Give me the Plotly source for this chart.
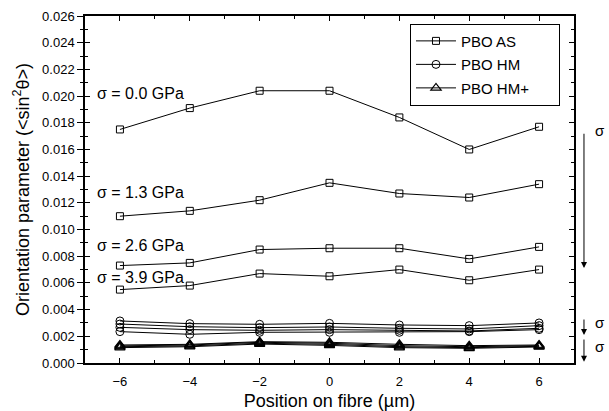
import plotly.graph_objects as go

# Position along the fibre (µm)
positions = [-6, -4, -2, 0, 2, 4, 6]

# Applied stress levels (GPa)
stress_labels = ["σ = 0.0 GPa", "σ = 1.3 GPa", "σ = 2.6 GPa", "σ = 3.9 GPa"]

# Orientation parameter <sin²θ> for as-spun PBO, one list per stress level
pbo_as_00 = [0.0175, 0.0191, 0.0204, 0.0204, 0.0184, 0.0160, 0.0177]
pbo_as_13 = [0.0110, 0.0114, 0.0122, 0.0135, 0.0127, 0.0124, 0.0134]
pbo_as_26 = [0.0073, 0.0075, 0.0085, 0.0086, 0.0086, 0.0078, 0.0087]
pbo_as_39 = [0.0055, 0.0058, 0.0067, 0.0065, 0.0070, 0.0062, 0.0070]

# High-modulus PBO
pbo_hm_00 = [0.00315, 0.00295, 0.00290, 0.00297, 0.00285, 0.00280, 0.00300]
pbo_hm_13 = [0.00292, 0.00272, 0.00265, 0.00270, 0.00260, 0.00255, 0.00280]
pbo_hm_26 = [0.00267, 0.00250, 0.00245, 0.00250, 0.00245, 0.00240, 0.00260]
pbo_hm_39 = [0.00235, 0.00215, 0.00230, 0.00230, 0.00230, 0.00235, 0.00250]

# High-modulus PBO, further heat treated
pbo_hmp_00 = [0.00135, 0.00140, 0.00160, 0.00155, 0.00140, 0.00130, 0.00135]
pbo_hmp_13 = [0.00128, 0.00135, 0.00155, 0.00148, 0.00130, 0.00122, 0.00130]
pbo_hmp_26 = [0.00122, 0.00128, 0.00148, 0.00140, 0.00122, 0.00115, 0.00125]
pbo_hmp_39 = [0.00115, 0.00122, 0.00142, 0.00132, 0.00115, 0.00110, 0.00120]

# Legend names (padded so the legend box has some room on the right)
series_names = ["PBO AS", "PBO HM", "PBO HM+"]

# Where each stress label sits (left end of text, value level)
label_x = -6.72
label_y = [0.0202, 0.0128, 0.0088, 0.0064]

FONT = "Liberation Sans, Arial, sans-serif"
PAD = "\u00a0" * 6

fig = go.Figure()

groups = [
    (series_names[0], "square-open", 7, 1.0, [pbo_as_00, pbo_as_13, pbo_as_26, pbo_as_39]),
    (series_names[1], "circle-open", 8, 1.0, [pbo_hm_00, pbo_hm_13, pbo_hm_26, pbo_hm_39]),
    (series_names[2], "triangle-up-open", 9, 1.2, [pbo_hmp_00, pbo_hmp_13, pbo_hmp_26, pbo_hmp_39]),
]

for name, symbol, size, mlw, series in groups:
    for i, vals in enumerate(series):
        fig.add_trace(go.Scatter(
            x=positions, y=vals, mode="lines+markers", name=name + PAD,
            legendgroup=name, showlegend=(i == 0),
            line=dict(color="black", width=1),
            marker=dict(symbol=symbol, size=size, color="black",
                        line=dict(color="black", width=mlw)),
            cliponaxis=False,
        ))

# Stress labels next to the as-spun curves
for txt, yv in zip(stress_labels, label_y):
    fig.add_annotation(x=label_x, y=yv, text=txt, showarrow=False,
                       xanchor="left", yanchor="middle",
                       font=dict(family=FONT, size=16, color="black"))

# Arrows on the right showing the direction of increasing stress
arrow_x = 1.0204
arrows = [(0.01729, 0.00711), (0.00337, 0.0021), (0.00187, 0.0001)]
sigma_y = [0.01744, 0.00307, 0.0012]
for (y0, y1), sy in zip(arrows, sigma_y):
    fig.add_annotation(x=arrow_x, y=y1, xref="paper", yref="y",
                       ax=0, ay=y0, axref="pixel", ayref="y",
                       text="", showarrow=True, arrowhead=2, arrowsize=1.2,
                       arrowwidth=1, arrowcolor="black")
    fig.add_annotation(x=1.053, y=sy, xref="paper", yref="y", text="σ",
                       showarrow=False, xanchor="center", yanchor="middle",
                       font=dict(family=FONT, size=15, color="black"))

axis_common = dict(showgrid=False, zeroline=False, showline=True,
                   linecolor="black", linewidth=1.5, automargin=False)

fig.update_layout(
    width=609, height=411,
    margin=dict(l=85, r=35, t=16, b=48),
    paper_bgcolor="white", plot_bgcolor="white",
    font=dict(family=FONT, color="black"),
    xaxis=dict(
        range=[-7, 7], tick0=-6, dtick=2, ticks="inside", ticklen=5,
        tickwidth=1, tickcolor="black", mirror="ticks",
        minor=dict(dtick=1, ticks="inside", ticklen=3, tickcolor="black"),
        tickfont=dict(family=FONT, size=13), ticklabelstandoff=6,
        title=dict(text="Position on fibre (µm)", font=dict(family=FONT, size=18),
                   standoff=8),
        **axis_common,
    ),
    yaxis=dict(
        range=[0, 0.026], dtick=0.002, tickformat=".3f", ticks="outside",
        ticklen=6, tickwidth=1, tickcolor="black",
        minor=dict(dtick=0.001, ticks="outside", ticklen=3, tickcolor="black"),
        tickfont=dict(family=FONT, size=13),
        title=dict(text="Orientation parameter (<sin<sup>2</sup>θ>)",
                   font=dict(family=FONT, size=18), standoff=8),
        **axis_common,
    ),
    yaxis2=dict(
        range=[0, 0.026], dtick=0.002, overlaying="y", side="left",
        ticks="inside", ticklen=5, tickwidth=1, tickcolor="black", mirror="ticks",
        minor=dict(dtick=0.001, ticks="inside", ticklen=3, tickcolor="black"),
        showticklabels=False,
        **axis_common,
    ),
    legend=dict(
        x=0.6646, y=0.978, xanchor="left", yanchor="top",
        bgcolor="white", bordercolor="black", borderwidth=1,
        font=dict(family=FONT, size=15), itemwidth=40,
        tracegroupgap=1,
    ),
    showlegend=True,
)

# A hidden trace puts the mirrored inside ticks on the second y axis
fig.add_trace(go.Scatter(x=[None], y=[None], yaxis="y2", showlegend=False,
                         hoverinfo="skip"))

fig.write_html("out.html")
